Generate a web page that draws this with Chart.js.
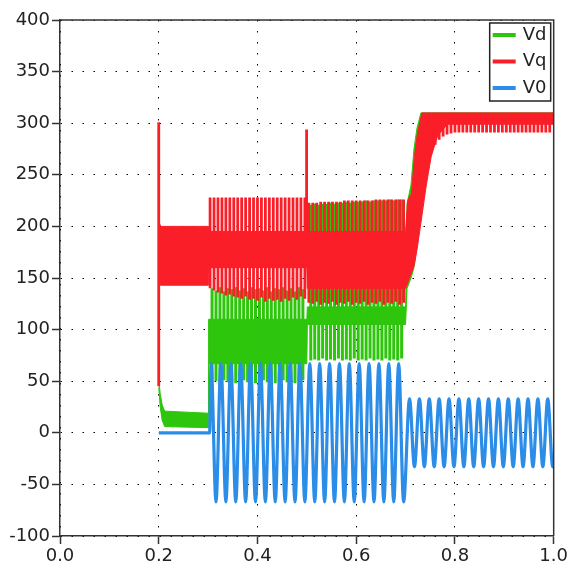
<!DOCTYPE html>
<html lang="en">
<head>
  <meta charset="UTF-8">
  <title>Vd Vq V0</title>
  <style>
    body { margin: 0; background: #fff; }
    .chartBox { position: relative; width: 570px; height: 570px; }
  </style>
</head>
<body>
  <div class="chartBox">
    <canvas id="myChart" width="570" height="570"></canvas>
  </div>

<script src="https://cdn.jsdelivr.net/npm/chart.js/dist/chart.umd.min.js"></script>
<script>
  // axis ticks
  const xTicks = [0, 0.2, 0.4, 0.6, 0.8, 1.0];
  const yTicks = [-100, -50, 0, 50, 100, 150, 200, 250, 300, 350, 400];

  // V0 (blue) - turning points of the wave
  const v0Time = [0.200, 0.303,
    0.306, 0.316, 0.326, 0.336, 0.346, 0.356, 0.366, 0.376, 0.386, 0.396,
    0.406, 0.416, 0.426, 0.436, 0.446, 0.456, 0.466, 0.476, 0.486, 0.496,
    0.506, 0.516, 0.526, 0.536, 0.546, 0.556, 0.566, 0.576, 0.586, 0.596,
    0.606, 0.616, 0.626, 0.636, 0.646, 0.656, 0.666, 0.676, 0.686, 0.696,
    0.708, 0.718, 0.728, 0.738, 0.748, 0.758, 0.768, 0.778, 0.788, 0.798,
    0.808, 0.818, 0.828, 0.838, 0.848, 0.858, 0.868, 0.878, 0.888, 0.898,
    0.908, 0.918, 0.928, 0.938, 0.948, 0.958, 0.968, 0.978, 0.988, 0.998, 1.000];
  const v0Vals = [0, 0,
    67, -67, 67, -67, 67, -67, 67, -67, 67, -67,
    67, -67, 67, -67, 67, -67, 67, -67, 67, -67,
    67, -67, 67, -67, 67, -67, 67, -67, 67, -67,
    67, -67, 67, -67, 67, -67, 67, -67, 67, -67,
    33, -33, 33, -33, 33, -33, 33, -33, 33, -33,
    33, -33, 33, -33, 33, -33, 33, -33, 33, -33,
    33, -33, 33, -33, 33, -33, 33, -33, 33, -33, -30];

  // Vq (red) - solid band envelope
  const vqBandT  = [0.200, 0.204, 0.300, 0.301, 0.500, 0.501, 0.700, 0.704, 0.712, 0.718, 0.724, 0.733, 0.742, 0.752, 0.765, 0.785, 1.000];
  const vqBandHi = [205, 200, 200, 195, 195, 195, 195, 225, 232, 268, 290, 310, 310, 310, 310, 310, 310];
  const vqBandLo = [143, 143, 143, 160, 160, 140, 140, 145, 155, 163, 180, 210, 240, 268, 288, 299, 299];

  // Vq (red) - ripple teeth
  const vqTeethT = [
    0.304, 0.312, 0.320, 0.328, 0.336, 0.344, 0.352, 0.360, 0.368, 0.376, 0.384, 0.392, 0.400,
    0.408, 0.416, 0.424, 0.432, 0.440, 0.448, 0.456, 0.464, 0.472, 0.480, 0.488, 0.496,
    0.504, 0.512, 0.520, 0.528, 0.536, 0.544, 0.552, 0.560, 0.568, 0.576, 0.584, 0.592, 0.600,
    0.608, 0.616, 0.624, 0.632, 0.640, 0.648, 0.656, 0.664, 0.672, 0.680, 0.688, 0.696,
    0.736, 0.744, 0.752, 0.760, 0.768, 0.776, 0.784, 0.792, 0.800, 0.808, 0.816, 0.824, 0.832,
    0.840, 0.848, 0.856, 0.864, 0.872, 0.880, 0.888, 0.896, 0.904, 0.912, 0.920, 0.928, 0.936,
    0.944, 0.952, 0.960, 0.968, 0.976, 0.984, 0.992];
  const vqTeethHi = [
    228, 228, 228, 228, 228, 228, 228, 228, 228, 228, 228, 228, 228,
    228, 228, 228, 228, 228, 228, 228, 228, 228, 228, 228, 228,
    223, 223, 223, 224, 224, 224, 224, 224, 224, 225, 225, 225, 225,
    225, 225, 225, 225, 226, 226, 226, 226, 226, 226, 226, 226,
    310, 310, 310, 310, 310, 310, 310, 310, 310, 310, 310, 310, 310,
    310, 310, 310, 310, 310, 310, 310, 310, 310, 310, 310, 310, 310,
    310, 310, 310, 310, 310, 310, 310];
  const vqTeethLo = [
    140, 138, 136, 135, 133, 134, 132, 131, 130, 132, 129, 130, 128,
    131, 127, 130, 128, 129, 127, 130, 128, 131, 129, 132, 130,
    126, 125, 127, 124, 126, 125, 127, 124, 126, 125, 127, 124, 126,
    125, 127, 124, 126, 125, 127, 124, 126, 125, 127, 124, 126,
    250, 262, 272, 279, 284, 287, 289, 290, 291, 291, 291, 291, 291,
    291, 291, 291, 291, 291, 291, 291, 291, 291, 291, 291, 291, 291,
    291, 291, 291, 291, 291, 291, 291];

  // Vq (red) - switching spikes
  const vqSpikeT  = [0.2000, 0.4995];
  const vqSpikeLo = [45, 190];
  const vqSpikeHi = [301, 294];

  // Vd (green) - solid band envelope
  const vdBandT  = [0.200, 0.203, 0.207, 0.212, 0.300, 0.301, 0.500, 0.501, 0.700, 0.703, 0.711, 0.717, 0.723, 0.731, 0.738, 1.000];
  const vdBandHi = [52, 38, 27, 21, 19, 110, 110, 122, 122, 222, 240, 275, 295, 310, 310, 310];
  const vdBandLo = [44, 25, 12, 6, 5, 67, 67, 105, 105, 140, 150, 160, 185, 240, 300, 300];

  // Vd (green) - ripple teeth
  const vdTeethT = [
    0.308, 0.316, 0.324, 0.332, 0.340, 0.348, 0.356, 0.364, 0.372, 0.380, 0.388, 0.396,
    0.404, 0.412, 0.420, 0.428, 0.436, 0.444, 0.452, 0.460, 0.468, 0.476, 0.484, 0.492,
    0.508, 0.516, 0.524, 0.532, 0.540, 0.548, 0.556, 0.564, 0.572, 0.580, 0.588, 0.596,
    0.604, 0.612, 0.620, 0.628, 0.636, 0.644, 0.652, 0.660, 0.668, 0.676, 0.684, 0.692];
  const vdTeethHi = [
    140, 138, 141, 137, 140, 139, 141, 138, 140, 137, 141, 139,
    140, 138, 141, 137, 140, 139, 141, 138, 140, 137, 141, 139,
    221, 222, 221, 222, 222, 223, 222, 223, 223, 224, 223, 224,
    224, 224, 225, 224, 225, 225, 225, 225, 226, 225, 226, 226];
  const vdTeethLo = [
    52, 50, 48, 51, 49, 50, 48, 50, 51, 49, 50, 48,
    50, 51, 49, 50, 48, 50, 51, 49, 50, 48, 50, 51,
    70, 71, 70, 72, 70, 71, 70, 72, 70, 71, 70, 72,
    70, 71, 70, 72, 70, 71, 70, 72, 70, 71, 70, 72];

  const green = '#2ec50d';
  const red = '#fa1e28';
  const blue = '#2b8de8';
  const textColor = '#222';
  const fontFamily = '"DejaVu Sans", Verdana, sans-serif';

  const pts = (t, v) => t.map((x, i) => ({ x, y: v[i] }));
  const teeth = (t, lo, hi) => {
    const out = [];
    t.forEach((x, i) => { out.push({ x, y: lo[i] }, { x, y: hi[i] }, { x, y: null }); });
    return out;
  };

  const base = { pointRadius: 0, tension: 0, spanGaps: false };

  const datasets = [
    { ...base, label: 'Vd', data: pts(vdBandT, vdBandHi), borderColor: green, backgroundColor: green, borderWidth: 1, fill: '+1', order: 5 },
    { ...base, label: 'Vd lo', data: pts(vdBandT, vdBandLo), borderColor: green, borderWidth: 1, fill: false, order: 5 },
    { ...base, label: 'Vd ripple', data: teeth(vdTeethT, vdTeethLo, vdTeethHi), borderColor: green, borderWidth: 3, borderCapStyle: 'butt', fill: false, order: 4 },
    { ...base, label: 'Vq', data: pts(vqBandT, vqBandHi), borderColor: red, backgroundColor: red, borderWidth: 1, fill: '+1', order: 3 },
    { ...base, label: 'Vq lo', data: pts(vqBandT, vqBandLo), borderColor: red, borderWidth: 1, fill: false, order: 3 },
    { ...base, label: 'Vq ripple', data: teeth(vqTeethT, vqTeethLo, vqTeethHi), borderColor: red, borderWidth: 2.8, borderCapStyle: 'butt', fill: false, order: 2 },
    { ...base, label: 'Vq spike', data: teeth(vqSpikeT, vqSpikeLo, vqSpikeHi), borderColor: red, borderWidth: 2.8, fill: false, order: 2 },
    { ...base, label: 'V0', data: pts(v0Time, v0Vals), borderColor: blue, borderWidth: 3.2, fill: false, cubicInterpolationMode: 'monotone', order: 1 }
  ];

  const legendItems = [
    { text: 'Vd', color: green },
    { text: 'Vq', color: red },
    { text: 'V0', color: blue }
  ];

  // top/right frame + boxed legend inside the plot
  const framePlugin = {
    id: 'frame',
    afterDatasetsDraw(chart) {
      const { ctx, chartArea: a } = chart;
      ctx.save();
      ctx.strokeStyle = '#333';
      ctx.lineWidth = 1.5;
      ctx.beginPath();
      ctx.moveTo(a.left, a.top);
      ctx.lineTo(a.right, a.top);
      ctx.lineTo(a.right, a.bottom);
      ctx.stroke();
      ctx.restore();
    },
    afterDraw(chart) {
      const { ctx, chartArea: a } = chart;
      const w = 61, h = 78;
      const left = a.right - 64, top = a.top + 3;
      ctx.save();
      ctx.fillStyle = '#fff';
      ctx.fillRect(left, top, w, h);
      ctx.strokeStyle = '#222';
      ctx.lineWidth = 1.5;
      ctx.strokeRect(left, top, w, h);
      ctx.font = '18px ' + fontFamily;
      ctx.textBaseline = 'middle';
      legendItems.forEach((item, i) => {
        const y = top + 12 + i * 26.5;
        ctx.strokeStyle = item.color;
        ctx.lineWidth = 4;
        ctx.beginPath();
        ctx.moveTo(left + 3, y);
        ctx.lineTo(left + 26, y);
        ctx.stroke();
        ctx.fillStyle = textColor;
        ctx.fillText(item.text, left + 33, y);
      });
      ctx.restore();
    }
  };

  const config = {
    type: 'line',
    data: { datasets },
    options: {
      responsive: false,
      animation: false,
      events: [],
      layout: { padding: { top: 20, right: 16, left: 0, bottom: 0 } },
      scales: {
        x: {
          type: 'linear',
          min: 0,
          max: 1,
          afterBuildTicks: s => { s.ticks = xTicks.map(v => ({ value: v })); },
          afterFit: s => { s.height = 34; },
          ticks: {
            padding: 2,
            color: textColor,
            font: { family: fontFamily, size: 18 },
            maxRotation: 0,
            callback: v => v.toFixed(1)
          },
          grid: { color: '#000', lineWidth: 1, tickLength: 8, tickColor: '#333', tickWidth: 1.5 },
          border: { color: '#333', width: 1.5, dash: [1.5, 9.5] }
        },
        y: {
          min: -100,
          max: 400,
          afterBuildTicks: s => { s.ticks = yTicks.map(v => ({ value: v })); },
          afterFit: s => { s.width = 60; },
          ticks: {
            padding: 2,
            color: textColor,
            font: { family: fontFamily, size: 18 }
          },
          grid: { color: '#000', lineWidth: 1, tickLength: 8, tickColor: '#333', tickWidth: 1.5 },
          border: { color: '#333', width: 1.5, dash: [1.5, 9.5] }
        }
      },
      plugins: {
        legend: { display: false },
        tooltip: { enabled: false }
      }
    },
    plugins: [framePlugin]
  };

  const myChart = new Chart(document.getElementById('myChart'), config);
</script>
</body>
</html>
